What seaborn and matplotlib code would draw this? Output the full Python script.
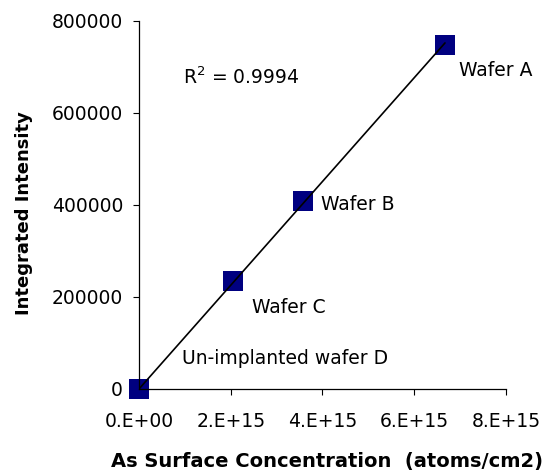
import matplotlib
matplotlib.use("Agg")
import matplotlib.pyplot as plt
import seaborn as sns
import pandas as pd

sns.set_style("ticks")
plt.rcParams['font.family'] = ['DejaVu Sans']
plt.rcParams['text.color'] = 'black'

# data
wafers = ['Wafer A', 'Wafer B', 'Wafer C', 'Un-implanted wafer D']
concentration = [6.67e15, 3.58e15, 2.05e15, 0.0]
intensity = [748500, 408700, 234800, 0]
r2_text = 'R$^2$ = 0.9994'
x_ticks = [0, 2e15, 4e15, 6e15, 8e15]
x_tick_labels = ['0.E+00', '2.E+15', '4.E+15', '6.E+15', '8.E+15']
y_ticks = [0, 200000, 400000, 600000, 800000]

df = pd.DataFrame({'wafer': wafers, 'conc': concentration, 'intensity': intensity})

fig = plt.figure(figsize=(5.5, 4.76), dpi=100)
ax = fig.add_axes([0.2527, 0.1828, 0.6673, 0.7731])

sns.scatterplot(data=df, x='conc', y='intensity', marker='s', color='#000080',
                s=200, edgecolor='none', ax=ax, zorder=2, clip_on=False)
sns.regplot(data=df, x='conc', y='intensity', scatter=False, ci=None, truncate=True,
            line_kws={'color': 'black', 'lw': 1.2, 'zorder': 3}, ax=ax)

fs = 13.5

# point labels
label_pos = {
    'Wafer A': (6.98e15, 693000),
    'Wafer B': (3.97e15, 400000),
    'Wafer C': (2.46e15, 178000),
    'Un-implanted wafer D': (0.94e15, 67000),
}
for name, (tx, ty) in label_pos.items():
    ax.text(tx, ty, name, fontsize=fs, va='center', ha='left', color='black')
ax.text(0.96e15, 678000, r2_text, fontsize=fs, va='center', ha='left', color='black')

ax.set_xlim(0, 8e15)
ax.set_ylim(0, 800000)
ax.set_xticks(x_ticks)
ax.set_xticklabels(x_tick_labels)
ax.set_yticks(y_ticks)
ax.set_yticklabels([str(v) for v in y_ticks])
ax.tick_params(axis='both', direction='out', length=4.5, width=0.8,
               labelsize=fs, colors='black')
ax.tick_params(axis='y', pad=7)
ax.tick_params(axis='x', pad=12)

ax.set_xlabel('As Surface Concentration  (atoms/cm2)', fontsize=14,
              fontweight='bold', color='black')
ax.set_ylabel('Integrated Intensity', fontsize=13, fontweight='bold', color='black')
ax.xaxis.set_label_coords(0.512, -0.17)
ax.yaxis.set_label_coords(-0.29, 0.478)

sns.despine(ax=ax)
for sp in ['left', 'bottom']:
    ax.spines[sp].set_color('black')
    ax.spines[sp].set_linewidth(0.9)

fig.savefig('out.png', dpi=100)
